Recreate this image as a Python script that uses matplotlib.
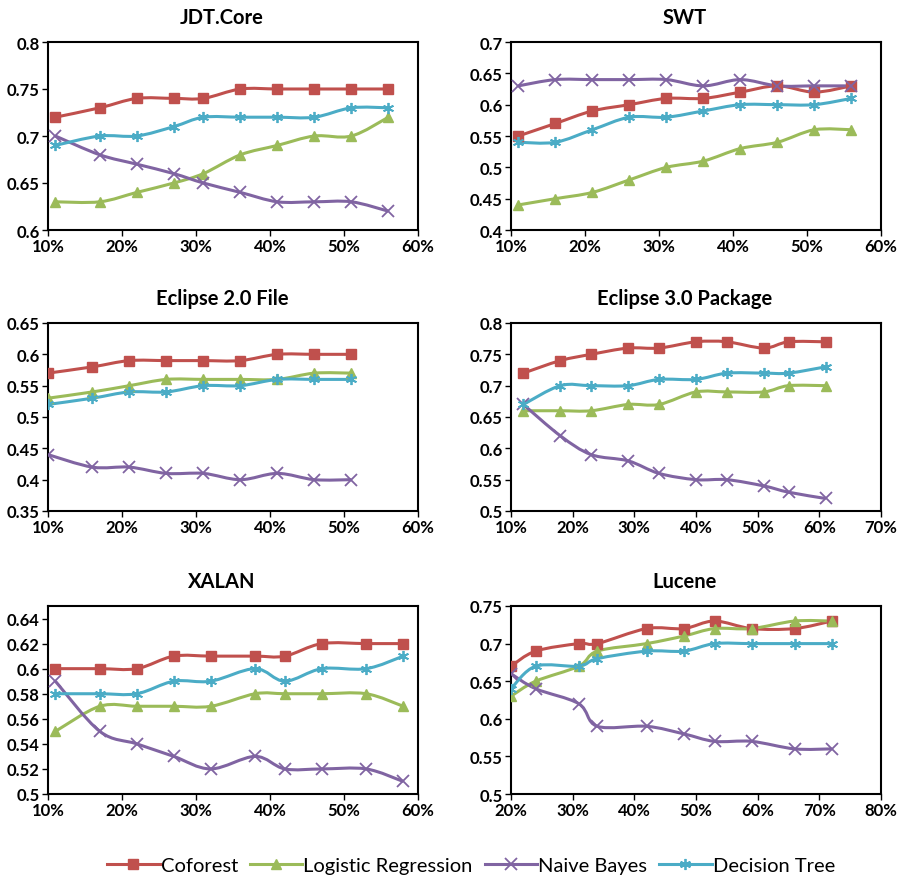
import numpy as np
import matplotlib
matplotlib.use("Agg")
import matplotlib.pyplot as plt
from matplotlib.path import Path
from matplotlib.patches import PathPatch
from matplotlib.lines import Line2D
from matplotlib.ticker import FuncFormatter

plt.rcParams['font.family'] = ['Lato', 'DejaVu Sans']

methods = ['Coforest', 'Logistic Regression', 'Naive Bayes', 'Decision Tree']
colors = ['#C0504D', '#9BBB59', '#8064A2', '#4BACC6']
markers = ['s', '^', 'x', (6, 2, 0)]

# JDT.Core
jdt_x = [11, 17, 22, 27, 31, 36, 41, 46, 51, 56]
jdt_cof = [0.72, 0.73, 0.74, 0.74, 0.74, 0.75, 0.75, 0.75, 0.75, 0.75]
jdt_lr = [0.63, 0.63, 0.64, 0.65, 0.66, 0.68, 0.69, 0.70, 0.70, 0.72]
jdt_nb = [0.70, 0.68, 0.67, 0.66, 0.65, 0.64, 0.63, 0.63, 0.63, 0.62]
jdt_dt = [0.69, 0.70, 0.70, 0.71, 0.72, 0.72, 0.72, 0.72, 0.73, 0.73]

# SWT
swt_x = [11, 16, 21, 26, 31, 36, 41, 46, 51, 56]
swt_cof = [0.55, 0.57, 0.59, 0.60, 0.61, 0.61, 0.62, 0.63, 0.62, 0.63]
swt_lr = [0.44, 0.45, 0.46, 0.48, 0.50, 0.51, 0.53, 0.54, 0.56, 0.56]
swt_nb = [0.63, 0.64, 0.64, 0.64, 0.64, 0.63, 0.64, 0.63, 0.63, 0.63]
swt_dt = [0.54, 0.54, 0.56, 0.58, 0.58, 0.59, 0.60, 0.60, 0.60, 0.61]

# Eclipse 2.0 File
e2_x = [10, 16, 21, 26, 31, 36, 41, 46, 51]
e2_cof = [0.57, 0.58, 0.59, 0.59, 0.59, 0.59, 0.60, 0.60, 0.60]
e2_lr = [0.53, 0.54, 0.55, 0.56, 0.56, 0.56, 0.56, 0.57, 0.57]
e2_nb = [0.44, 0.42, 0.42, 0.41, 0.41, 0.40, 0.41, 0.40, 0.40]
e2_dt = [0.52, 0.53, 0.54, 0.54, 0.55, 0.55, 0.56, 0.56, 0.56]

# Eclipse 3.0 Package
e3_x = [12, 18, 23, 29, 34, 40, 45, 51, 55, 61]
e3_cof = [0.72, 0.74, 0.75, 0.76, 0.76, 0.77, 0.77, 0.76, 0.77, 0.77]
e3_lr = [0.66, 0.66, 0.66, 0.67, 0.67, 0.69, 0.69, 0.69, 0.70, 0.70]
e3_nb = [0.67, 0.62, 0.59, 0.58, 0.56, 0.55, 0.55, 0.54, 0.53, 0.52]
e3_dt = [0.67, 0.70, 0.70, 0.70, 0.71, 0.71, 0.72, 0.72, 0.72, 0.73]

# XALAN
xa_x = [11, 17, 22, 27, 32, 38, 42, 47, 53, 58]
xa_cof = [0.60, 0.60, 0.60, 0.61, 0.61, 0.61, 0.61, 0.62, 0.62, 0.62]
xa_lr = [0.55, 0.57, 0.57, 0.57, 0.57, 0.58, 0.58, 0.58, 0.58, 0.57]
xa_nb = [0.59, 0.55, 0.54, 0.53, 0.52, 0.53, 0.52, 0.52, 0.52, 0.51]
xa_dt = [0.58, 0.58, 0.58, 0.59, 0.59, 0.60, 0.59, 0.60, 0.60, 0.61]

# Lucene
lu_x = [20, 24, 31, 34, 42, 48, 53, 59, 66, 72]
lu_cof = [0.67, 0.69, 0.70, 0.70, 0.72, 0.72, 0.73, 0.72, 0.72, 0.73]
lu_lr = [0.63, 0.65, 0.67, 0.69, 0.70, 0.71, 0.72, 0.72, 0.73, 0.73]
lu_nb = [0.66, 0.64, 0.62, 0.59, 0.59, 0.58, 0.57, 0.57, 0.56, 0.56]
lu_dt = [0.64, 0.67, 0.67, 0.68, 0.69, 0.69, 0.70, 0.70, 0.70, 0.70]

panels = [
    ('JDT.Core', jdt_x, [jdt_cof, jdt_lr, jdt_nb, jdt_dt], (10, 60), (0.6, 0.8), np.arange(0.6, 0.81, 0.05)),
    ('SWT', swt_x, [swt_cof, swt_lr, swt_nb, swt_dt], (10, 60), (0.4, 0.7), np.arange(0.4, 0.71, 0.05)),
    ('Eclipse 2.0 File', e2_x, [e2_cof, e2_lr, e2_nb, e2_dt], (10, 60), (0.35, 0.65), np.arange(0.35, 0.66, 0.05)),
    ('Eclipse 3.0 Package', e3_x, [e3_cof, e3_lr, e3_nb, e3_dt], (10, 70), (0.5, 0.8), np.arange(0.5, 0.81, 0.05)),
    ('XALAN', xa_x, [xa_cof, xa_lr, xa_nb, xa_dt], (10, 60), (0.5, 0.65), np.arange(0.5, 0.645, 0.02)),
    ('Lucene', lu_x, [lu_cof, lu_lr, lu_nb, lu_dt], (20, 80), (0.5, 0.75), np.arange(0.5, 0.76, 0.05)),
]


def smooth_path(x, y):
    # Excel-like smoothed line: cubic Bezier through the data points
    n = len(x)
    verts = [(x[0], y[0])]
    codes = [Path.MOVETO]
    for i in range(n - 1):
        a = max(i - 1, 0)
        b = min(i + 2, n - 1)
        c1 = (x[i] + (x[i + 1] - x[a]) / 6, y[i] + (y[i + 1] - y[a]) / 6)
        c2 = (x[i + 1] - (x[b] - x[i]) / 6, y[i + 1] - (y[b] - y[i]) / 6)
        verts += [c1, c2, (x[i + 1], y[i + 1])]
        codes += [Path.CURVE4] * 3
    return Path(verts, codes)


W, H = 907, 879
fig = plt.figure(figsize=(W / 100, H / 100), dpi=100)

lefts = [48, 511]
tops = [43, 324, 607]
aw, ah = 370, 188


def ytick_fmt(v, pos):
    return ('%.2f' % v).rstrip('0').rstrip('.')


def msize(m):
    return 7 if m in ('s', '^') else 8


def mwidth(m):
    return 1 if m in ('s', '^') else 1.3


for k, (title, xs, series, xlim, ylim, yticks) in enumerate(panels):
    col, row = k % 2, k // 2
    ax = fig.add_axes([lefts[col] / W, 1 - (tops[row] + ah) / H, aw / W, ah / H])
    for vals, c, m in zip(series, colors, markers):
        ax.add_patch(PathPatch(smooth_path(xs, vals), fill=False, edgecolor=c, lw=2.2, zorder=2))
        ax.plot(xs, vals, ls='none', marker=m, color=c, ms=msize(m), mew=mwidth(m), zorder=3)
    ax.set_xlim(*xlim)
    ax.set_ylim(*ylim)
    ax.set_xticks(np.arange(xlim[0], xlim[1] + 1, 10))
    ax.xaxis.set_major_formatter(FuncFormatter(lambda v, p: '%d%%' % round(v)))
    ax.set_yticks(yticks)
    ax.yaxis.set_major_formatter(FuncFormatter(ytick_fmt))
    for lab in ax.get_xticklabels() + ax.get_yticklabels():
        lab.set_fontweight('bold')
        lab.set_fontsize(12)
    ax.tick_params(direction='out', length=4, width=1, pad=2, colors='black')
    for sp in ax.spines.values():
        sp.set_linewidth(1.5)
        sp.set_color('black')
    ax.set_title(title, fontsize=14.5, fontweight='bold', pad=14, x=0.47)

handles = [Line2D([], [], color=c, marker=m, lw=2.2, ms=msize(m), mew=mwidth(m))
           for c, m in zip(colors, markers)]
fig.legend(handles, methods, loc='center', bbox_to_anchor=(471 / W, 1 - 866 / H),
           ncol=4, frameon=False, fontsize=14.5, handlelength=2.6, handletextpad=0.05,
           columnspacing=0.6)

fig.savefig('out.png', dpi=100)
